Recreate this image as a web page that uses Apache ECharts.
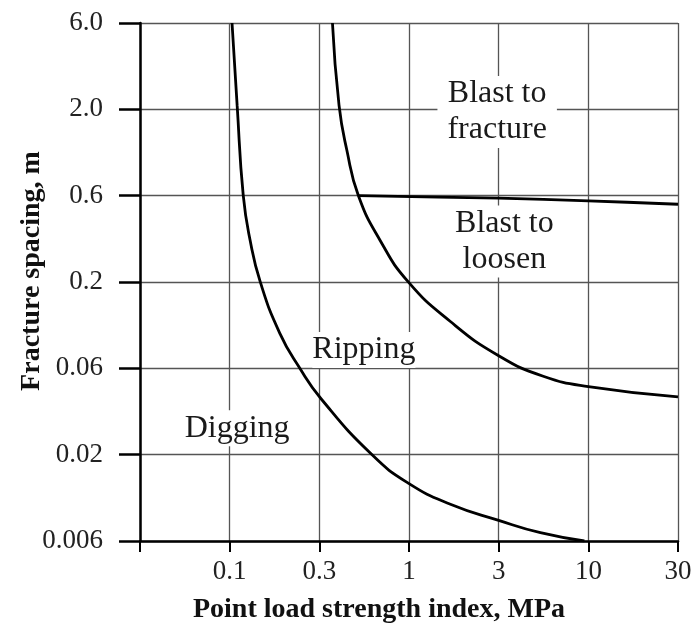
<!DOCTYPE html>
<html>
<head>
<meta charset="utf-8">
<script src="https://cdn.jsdelivr.net/npm/echarts@6/dist/echarts.min.js"></script>
<style>
  html, body { margin: 0; padding: 0; background: #fff; }
  #chart { width: 692px; height: 624px; }
</style>
</head>
<body>
<div id="chart"></div>
<script>
// ---- Data ----
// X axis: point load strength index, MPa (log scale, half-decade ticks)
const xTickValues = [0.0316, 0.1, 0.316, 1, 3.16, 10, 31.6];
const xTickLabels = ['', '0.1', '0.3', '1', '3', '10', '30'];
// Y axis: fracture spacing, m (log scale, half-decade ticks)
const yTickValues = [0.006, 0.019, 0.06, 0.19, 0.6, 1.9, 6];
const yTickLabels = ['0.006', '0.02', '0.06', '0.2', '0.6', '2.0', '6.0'];

// Digging / Ripping boundary
const digRipX = [0.103, 0.110, 0.119, 0.130, 0.148, 0.19, 0.246, 0.323, 0.62, 1.0, 1.7, 3.16, 5.4, 9.5];
const digRipY = [6.0, 2.0, 0.6, 0.33, 0.19, 0.096, 0.06, 0.040, 0.019, 0.0129, 0.0098, 0.0079, 0.0067, 0.006];

// Ripping / Blasting boundary
const ripBlastX = [0.374, 0.407, 0.45, 0.522, 0.69, 0.99, 1.7, 3.16, 5.6, 10, 31.6];
const ripBlastY = [6.0, 2.0, 1.1, 0.6, 0.33, 0.19, 0.112, 0.071, 0.054, 0.047, 0.041];

// Blast to loosen / Blast to fracture boundary
const loosenFractureX = [0.522, 3.16, 10, 31.6];
const loosenFractureY = [0.6, 0.58, 0.56, 0.535];

// Region labels
const regionNames = ['Blast to\nfracture', 'Blast to\nloosen', 'Ripping', 'Digging'];
const regionX = [3.1, 3.4, 0.56, 0.11];
const regionY = [1.83, 0.326, 0.0766, 0.027];

// ---- Helpers ----
const pairs = (xs, ys) => xs.map((x, i) => [x, ys[i]]);
const labelFor = (vals, labels) => (v) => {
  const i = vals.findIndex(t => Math.abs(Math.log10(t / v)) < 0.01);
  return i >= 0 ? labels[i] : '';
};

const SERIF = 'Liberation Serif';
const curveStyle = { color: '#000', width: 2.8 };

const chart = echarts.init(document.getElementById('chart'), null, { renderer: 'canvas' });
chart.setOption({
  animation: false,
  backgroundColor: '#fff',
  grid: { left: 140, right: 14, top: 23, bottom: 83, containLabel: false, outerBoundsMode: 'none' },
  xAxis: {
    type: 'log',
    logBase: 10,
    min: xTickValues[0],
    max: xTickValues[xTickValues.length - 1],
    name: 'Point load strength index, MPa',
    nameLocation: 'middle',
    nameMoveOverlap: false,
    nameGap: 55,
    nameTextStyle: { fontFamily: SERIF, fontSize: 28, fontWeight: 'bold', color: '#111', padding: [0, 60, 0, 0] },
    axisLine: { show: true, onZero: false, lineStyle: { color: '#000', width: 2.5 } },
    axisTick: { show: true, customValues: xTickValues, length: 11, lineStyle: { color: '#000', width: 2 } },
    axisLabel: {
      customValues: xTickValues,
      formatter: labelFor(xTickValues, xTickLabels),
      fontFamily: SERIF, fontSize: 27, color: '#222', margin: 17
    },
    splitLine: { show: true, lineStyle: { color: '#555', width: 1.3 } },
    minorTick: { show: false },
    minorSplitLine: { show: false }
  },
  yAxis: {
    type: 'log',
    logBase: 10,
    min: yTickValues[0],
    max: yTickValues[yTickValues.length - 1],
    name: 'Fracture spacing, m',
    nameLocation: 'middle',
    nameRotate: 90,
    nameMoveOverlap: false,
    nameGap: 94,
    nameTextStyle: { fontFamily: SERIF, fontSize: 28, fontWeight: 'bold', color: '#111', padding: [0, 0, 0, 22] },
    axisLine: { show: true, onZero: false, lineStyle: { color: '#000', width: 2.5 } },
    axisTick: { show: true, customValues: yTickValues, length: 21, lineStyle: { color: '#000', width: 2.5 } },
    axisLabel: {
      customValues: yTickValues,
      formatter: labelFor(yTickValues, yTickLabels),
      fontFamily: SERIF, fontSize: 27, color: '#222', margin: 37
    },
    splitLine: { show: true, lineStyle: { color: '#555', width: 1.3 } }
  },
  series: [
    {
      type: 'scatter',
      symbolSize: 0,
      silent: true,
      z: 1,
      itemStyle: { opacity: 1 },
      data: regionNames.map((n, i) => ({
        value: [regionX[i], regionY[i]],
        name: n,
        label: { padding: i < 2 ? [0, 10] : [0, 0] }
      })),
      label: {
        show: true,
        position: 'inside',
        formatter: (p) => p.name,
        fontFamily: SERIF,
        fontSize: 32,
        lineHeight: 36,
        color: '#1a1a1a',
        opacity: 1,
        backgroundColor: '#fff',
        align: 'center',
        verticalAlign: 'middle'
      }
    },
    {
      type: 'line', name: 'Digging/Ripping', showSymbol: false, smooth: 0.5,
      z: 3, lineStyle: curveStyle, data: pairs(digRipX, digRipY)
    },
    {
      type: 'line', name: 'Ripping/Blasting', showSymbol: false, smooth: 0.5,
      z: 3, lineStyle: curveStyle, data: pairs(ripBlastX, ripBlastY)
    },
    {
      type: 'line', name: 'Loosen/Fracture', showSymbol: false, smooth: 0.3,
      z: 3, lineStyle: curveStyle, data: pairs(loosenFractureX, loosenFractureY)
    }
  ]
});
</script>
</body>
</html>
